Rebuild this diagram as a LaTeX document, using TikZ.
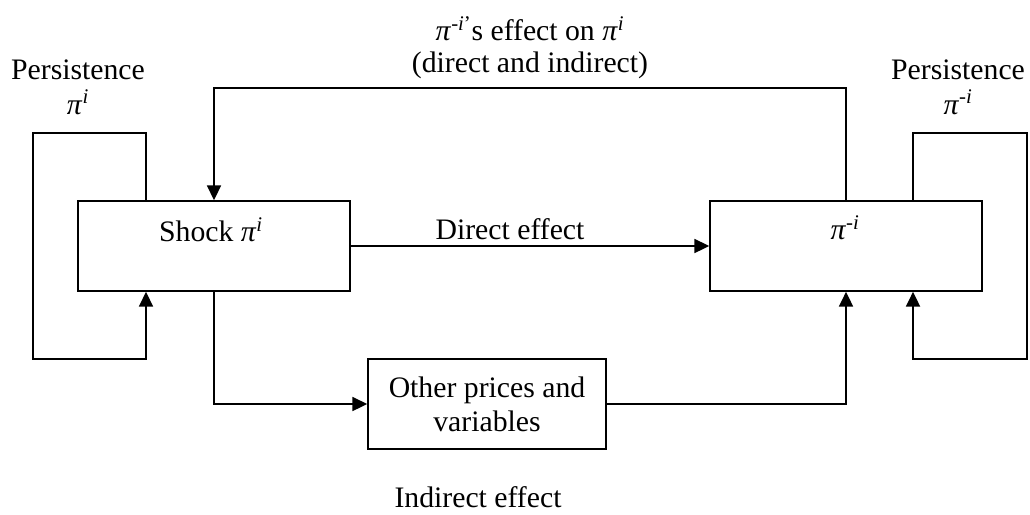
\documentclass[tikz,border=0pt]{standalone}
\usepackage{fontspec}
\setmainfont{Liberation Serif}
\usetikzlibrary{arrows.meta,calc}
\newcommand{\PiI}{\textit{π}\textsuperscript{\textit{i}}}
\newcommand{\PimI}{\textit{π}\textsuperscript{-\textit{i}}}
\tikzset{
  lbl/.style={font=\fontsize{22.3}{25.5}\selectfont, inner sep=0pt, align=center},
  box/.style={draw, line width=1.3pt, inner sep=0pt},
  conn/.style={line width=1.3pt},
  arr/.style={conn, -{Triangle[length=11pt,width=10.5pt]}},
}
\begin{document}
\begin{tikzpicture}[x=0.75pt,y=-0.75pt]
\useasboundingbox (0,0) rectangle (1030,514);
% boxes
\node[box, minimum width=204pt, minimum height=67.5pt] (shock) at (214,246) {};
\node[box, minimum width=204pt, minimum height=67.5pt] (right) at (846,246) {};
\node[box, minimum width=178.5pt, minimum height=67.5pt, lbl] (other) at (487,404) {Other prices and\\variables};
% box texts
\node[lbl] (shocktxt) at (211,230) {Shock \PiI};
\node[lbl] (righttxt) at (845,228) {\PimI};
% labels
\node[lbl, font=\fontsize{22.3}{24}\selectfont] (toplbl) at (530,48) {\textit{π}\textsuperscript{-\textit{i}’}s effect on \PiI\\(direct and indirect)};
\node[lbl, font=\fontsize{22.3}{26}\selectfont] (lpers) at (78,87) {Persistence\\\PiI};
\node[lbl, font=\fontsize{22.3}{26}\selectfont] (rpers) at (958,87) {Persistence\\\PimI};
\node[lbl] (direct) at (510,229) {Direct effect};
\node[lbl] (indirect) at (478,497) {Indirect effect};
% coordinates
\coordinate (top) at (0,88);
\coordinate (lpa) at (146,133);
\coordinate (lpb) at (33,359);
\coordinate (rpa) at (913,133);
\coordinate (rpb) at (1027,359);
% connectors
\draw[arr] (shock.east) -- (right.west);
\draw[arr] (right.north) -- (right.north |- top) -| (shock.north);
\draw[arr] (shock.north -| lpa) -- (lpa) -| (lpb) -| (shock.south -| lpa);
\draw[arr] (right.north -| rpa) -- (rpa) -| (rpb) -| (right.south -| rpa);
\draw[arr] (shock.south) |- (other.west);
\draw[arr] (other.east) -| (right.south);
\end{tikzpicture}
\end{document}
